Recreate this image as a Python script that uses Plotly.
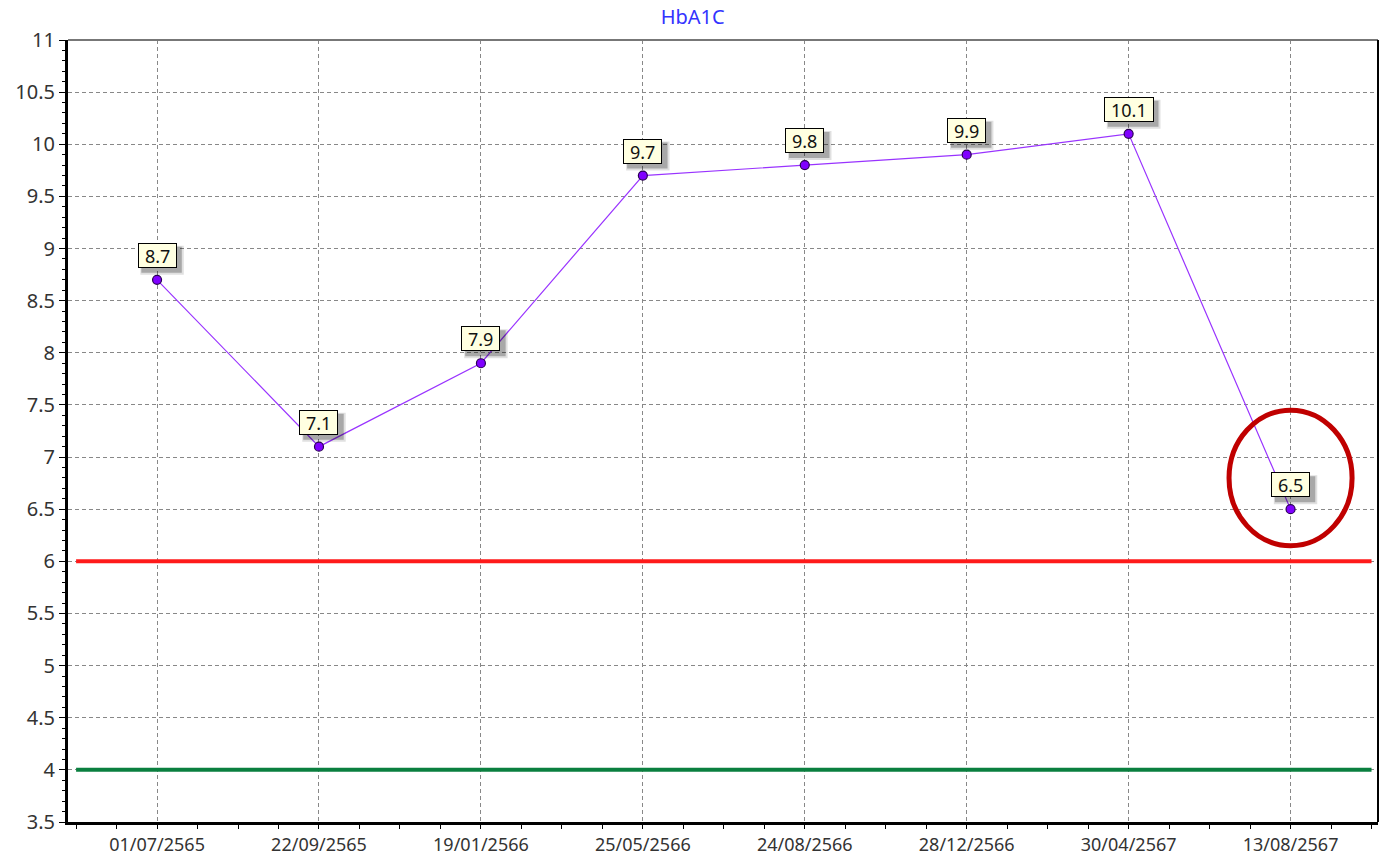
import plotly.graph_objects as go

dates = ["01/07/2565", "22/09/2565", "19/01/2566", "25/05/2566",
         "24/08/2566", "28/12/2566", "30/04/2567", "13/08/2567"]
hba1c = [8.7, 7.1, 7.9, 9.7, 9.8, 9.9, 10.1, 6.5]
upper_limit = 6
lower_limit = 4
y_ticks = [3.5, 4, 4.5, 5, 5.5, 6, 6.5, 7, 7.5, 8, 8.5, 9, 9.5, 10, 10.5, 11]

xs = list(range(len(dates)))
FONT = "Noto Sans"
TICK_SIZE = 20
LABEL_SIZE = 18

fig = go.Figure()

# reference lines
for val, col in [(upper_limit, "#ff1a1a"), (lower_limit, "#0a7f3f")]:
    fig.add_trace(go.Scatter(x=[-0.5, len(dates) - 0.5], y=[val, val], mode="lines",
                             line=dict(color=col, width=4), hoverinfo="skip",
                             showlegend=False))

fig.add_trace(go.Scatter(
    x=xs, y=hba1c, mode="lines+markers",
    line=dict(color="#9933ff", width=1.2),
    marker=dict(size=9, color="#8000ff", line=dict(color="#2a0055", width=1.2)),
    showlegend=False,
))

annotations = []
shapes = []
for x, v in zip(xs, hba1c):
    txt = str(v)
    tw = sum(0.27 * LABEL_SIZE if c == "." else 0.572 * LABEL_SIZE for c in txt)
    inner_w = tw + 10
    box_w = inner_w + 4
    box_h = 25
    base = 12
    # soft drop shadow (pixel-sized, anchored at the data point)
    shapes.append(dict(type="rect", xref="x", yref="y", xsizemode="pixel", ysizemode="pixel",
                       xanchor=x, yanchor=v, x0=-box_w / 2 + 3, x1=box_w / 2 + 7,
                       y0=base - 7, y1=base + box_h - 3,
                       fillcolor="rgba(0,0,0,0.12)", line=dict(width=0), layer="above"))
    shapes.append(dict(type="rect", xref="x", yref="y", xsizemode="pixel", ysizemode="pixel",
                       xanchor=x, yanchor=v, x0=-box_w / 2 + 4, x1=box_w / 2 + 5,
                       y0=base - 5, y1=base + box_h - 4,
                       fillcolor="rgba(0,0,0,0.25)", line=dict(width=0), layer="above"))
    annotations.append(dict(x=x, y=v, xref="x", yref="y", text=txt, showarrow=False,
                            yanchor="bottom", yshift=base,
                            width=inner_w, height=box_h - 4, align="center", valign="middle",
                            font=dict(family=FONT, size=LABEL_SIZE, color="#111111"),
                            bgcolor="#ffffe1", bordercolor="#000000", borderwidth=1,
                            borderpad=1))

shapes += [
    # highlight circle around the last point
    dict(type="circle", xref="x", yref="y",
         x0=xs[-1] - 0.38, x1=xs[-1] + 0.38,
         y0=hba1c[-1] - 0.35, y1=hba1c[-1] + 0.95,
         line=dict(color="#c00000", width=5)),
    # top and right borders
    dict(type="line", xref="paper", yref="paper", x0=0, x1=1, y0=1, y1=1,
         line=dict(color="#777777", width=2)),
    dict(type="line", xref="paper", yref="paper", x0=1, x1=1, y0=0, y1=1,
         line=dict(color="#000000", width=2)),
]

fig.update_layout(
    width=1391, height=856,
    margin=dict(l=68, r=13, t=40, b=34),
    paper_bgcolor="white", plot_bgcolor="white",
    title=dict(text="HbA1C", x=0.498, xref="container", y=0.98, yref="container",
               yanchor="middle",
               font=dict(family=FONT, size=20, color="#3333ff")),
    annotations=annotations,
    shapes=shapes,
    font=dict(family=FONT, size=TICK_SIZE, color="#333333"),
)

fig.update_xaxes(
    range=[-0.55, len(dates) - 1 + 0.54],
    tickmode="array", tickvals=xs, ticktext=dates,
    ticks="outside", ticklen=4, tickcolor="#000000", tickwidth=1,
    showline=True, linecolor="#000000", linewidth=3,
    showgrid=True, gridcolor="#888888", griddash="4px,3px", gridwidth=1,
    zeroline=False, automargin=False, ticklabelstandoff=0,
    minor=dict(ticks="outside", ticklen=4, tickcolor="#000000", dtick=0.25, tick0=0,
               showgrid=False),
    tickfont=dict(family=FONT, size=18, color="#333333"),
)
fig.update_yaxes(
    range=[3.5, 11],
    tickmode="array", tickvals=y_ticks, ticktext=[f"{t:g}" for t in y_ticks],
    ticks="outside", ticklen=6, tickcolor="#000000", tickwidth=1,
    showline=True, linecolor="#000000", linewidth=3,
    showgrid=True, gridcolor="#888888", griddash="4px,3px", gridwidth=1,
    zeroline=False, automargin=False,
    minor=dict(ticks="outside", ticklen=3, tickcolor="#000000", dtick=0.1, tick0=3.5,
               showgrid=False),
    tickfont=dict(family=FONT, size=TICK_SIZE, color="#333333"),
)

fig.write_html(
    "out.html",
    config={"displayModeBar": False},
    post_script="document.body.style.margin='0';document.documentElement.style.overflow='hidden';",
)
